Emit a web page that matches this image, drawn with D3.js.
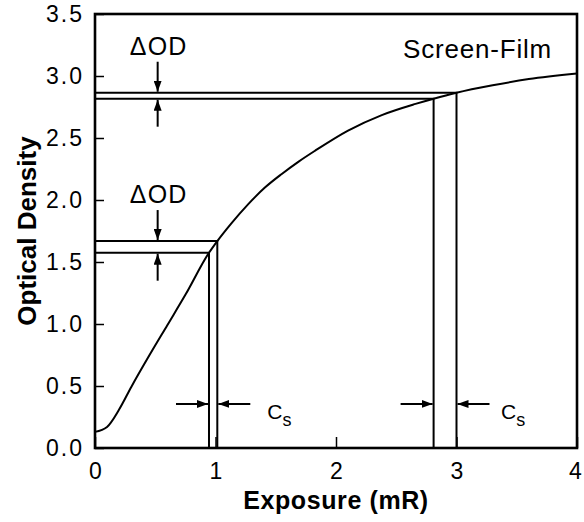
<!DOCTYPE html>
<html>
<head>
<meta charset="utf-8">
<script src="https://cdn.jsdelivr.net/npm/d3@7"></script>
<style>
body { margin: 0; background: #fff; }
text { font-family: Arial, "Liberation Sans", Helvetica, sans-serif; fill: #000; }
</style>
</head>
<body>
<svg id="chart" width="584" height="522"></svg>
<script>
// characteristic curve
var exposure = [0, 0.1, 0.2, 0.3, 0.45, 0.6, 0.75, 0.946, 1.015, 1.13, 1.27, 1.41, 1.55, 1.69, 1.83, 2.1, 2.38, 2.66, 2.81, 3.0, 3.3, 3.6, 4.0];
var density  = [0.13, 0.17, 0.31, 0.49, 0.745, 0.99, 1.235, 1.575, 1.669, 1.81, 1.965, 2.10, 2.21, 2.31, 2.40, 2.56, 2.685, 2.775, 2.817, 2.865, 2.925, 2.975, 3.02];

// drop lines: pairs of points on the curve
var refExposure = [0.946, 1.015, 2.81, 3.0];
var refDensity  = [1.575, 1.669, 2.817, 2.865];

var xTicks = [0, 1, 2, 3, 4];
var xMinor = [0.2, 0.4, 0.6, 0.8, 1.2, 1.4, 1.6, 1.8, 2.2, 2.4, 2.6, 2.8, 3.2, 3.4, 3.6, 3.8];
var yTicks = [0, 0.5, 1.0, 1.5, 2.0, 2.5, 3.0, 3.5];

var odArrowX = 0.52;          // exposure where the delta-OD arrows sit
var csArrowY = 0.355;         // density where the Cs arrows sit
var csLabelX = [1.43, 3.37];  // exposure where the Cs labels start

var svg = d3.select("#chart");
var x = d3.scaleLinear().domain([0, 4]).range([95, 577]);
var y = d3.scaleLinear().domain([0, 3.5]).range([448, 14]);

var yMinor = d3.range(0, 3.5001, 0.1).filter(function(v){ return Math.abs(v*2 - Math.round(v*2)) > 1e-6; });

svg.append("defs").append("marker")
	.attr("id", "head")
	.attr("viewBox", "0 0 11 8")
	.attr("refX", 11).attr("refY", 4)
	.attr("markerWidth", 11).attr("markerHeight", 8)
	.attr("markerUnits", "userSpaceOnUse")
	.attr("orient", "auto")
	.append("path").attr("d", "M0,0 L11,4 L0,8 Z").attr("fill", "#000");

// axes
var gx = svg.append("g").attr("transform", "translate(0," + y(0) + ")");
gx.call(d3.axisBottom(x).tickValues(xMinor).tickSize(-6).tickFormat(""));
gx.call(d3.axisBottom(x).tickValues(xTicks).tickSize(-11).tickPadding(15).tickFormat(d3.format("d")));
var gy = svg.append("g").attr("transform", "translate(" + x(0) + ",0)");
gy.call(d3.axisLeft(y).tickValues(yMinor).tickSize(-5).tickFormat(""));
gy.call(d3.axisLeft(y).tickValues(yTicks).tickSize(-9).tickPadding(11).tickFormat(d3.format(".1f")));
svg.selectAll(".domain").remove();
svg.selectAll(".tick line").attr("stroke", "#000").attr("stroke-width", 1.5);
svg.selectAll(".tick text")
	.attr("font-size", 23)
	.attr("font-family", "Arial, 'Liberation Sans', sans-serif");
gy.selectAll(".tick text").attr("letter-spacing", 2);
// keep the last label inside the page
gx.selectAll(".tick text").filter(function(d){ return d === 4; }).attr("dx", -2);

// frame
svg.append("rect")
	.attr("x", x(0)).attr("y", y(3.5))
	.attr("width", x(4) - x(0)).attr("height", y(0) - y(3.5))
	.attr("fill", "none").attr("stroke", "#000").attr("stroke-width", 2.6);

// drop lines
refExposure.forEach(function(e, i){
	var od = refDensity[i];
	svg.append("path")
		.attr("d", "M" + x(0) + "," + y(od) + " L" + x(e) + "," + y(od) + " L" + x(e) + "," + y(0))
		.attr("fill", "none").attr("stroke", "#000").attr("stroke-width", 2);
});

// curve
var pts = exposure.map(function(e, i){ return [e, density[i]]; });
svg.append("path")
	.datum(pts)
	.attr("d", d3.line().x(function(d){ return x(d[0]); }).y(function(d){ return y(d[1]); }).curve(d3.curveMonotoneX))
	.attr("fill", "none").attr("stroke", "#000").attr("stroke-width", 2);

function arrow(x0, y0, x1, y1){
	svg.append("line")
		.attr("x1", x0).attr("y1", y0).attr("x2", x1).attr("y2", y1)
		.attr("stroke", "#000").attr("stroke-width", 2)
		.attr("marker-end", "url(#head)");
}

// delta OD markers
[[1.669, 1.575], [2.865, 2.817]].forEach(function(p){
	var ax = x(odArrowX);
	arrow(ax, y(p[0]) - 31, ax, y(p[0]) - 1);
	arrow(ax, y(p[1]) + 28, ax, y(p[1]) + 1);
	svg.append("text")
		.attr("x", ax + 1).attr("y", y(p[0]) - 38)
		.attr("text-anchor", "middle").attr("font-size", 25)
		.attr("letter-spacing", 1.2)
		.text("\u0394OD");
});

// Cs markers
[[0.946, 1.015], [2.81, 3.0]].forEach(function(p, i){
	var ay = y(csArrowY);
	arrow(x(p[0]) - 33, ay, x(p[0]) - 1, ay);
	arrow(x(p[1]) + 33, ay, x(p[1]) + 1, ay);
	var t = svg.append("text")
		.attr("x", x(csLabelX[i])).attr("y", ay + 15)
		.attr("font-size", 21);
	t.append("tspan").text("C");
	t.append("tspan").attr("dy", 7).attr("font-size", 18).text("s");
});

svg.append("text")
	.attr("x", 552).attr("y", 58)
	.attr("text-anchor", "end").attr("font-size", 26)
	.attr("letter-spacing", 0.8)
	.text("Screen-Film");

svg.append("text")
	.attr("x", (x(0) + x(4)) / 2).attr("y", 509)
	.attr("text-anchor", "middle").attr("font-size", 25).attr("font-weight", "bold")
	.attr("letter-spacing", 0.6)
	.text("Exposure (mR)");

svg.append("text")
	.attr("transform", "translate(36," + (y(0) + y(3.5)) / 2 + ") rotate(-90)")
	.attr("text-anchor", "middle").attr("font-size", 26).attr("font-weight", "bold")
	.text("Optical Density");
</script>
</body>
</html>
